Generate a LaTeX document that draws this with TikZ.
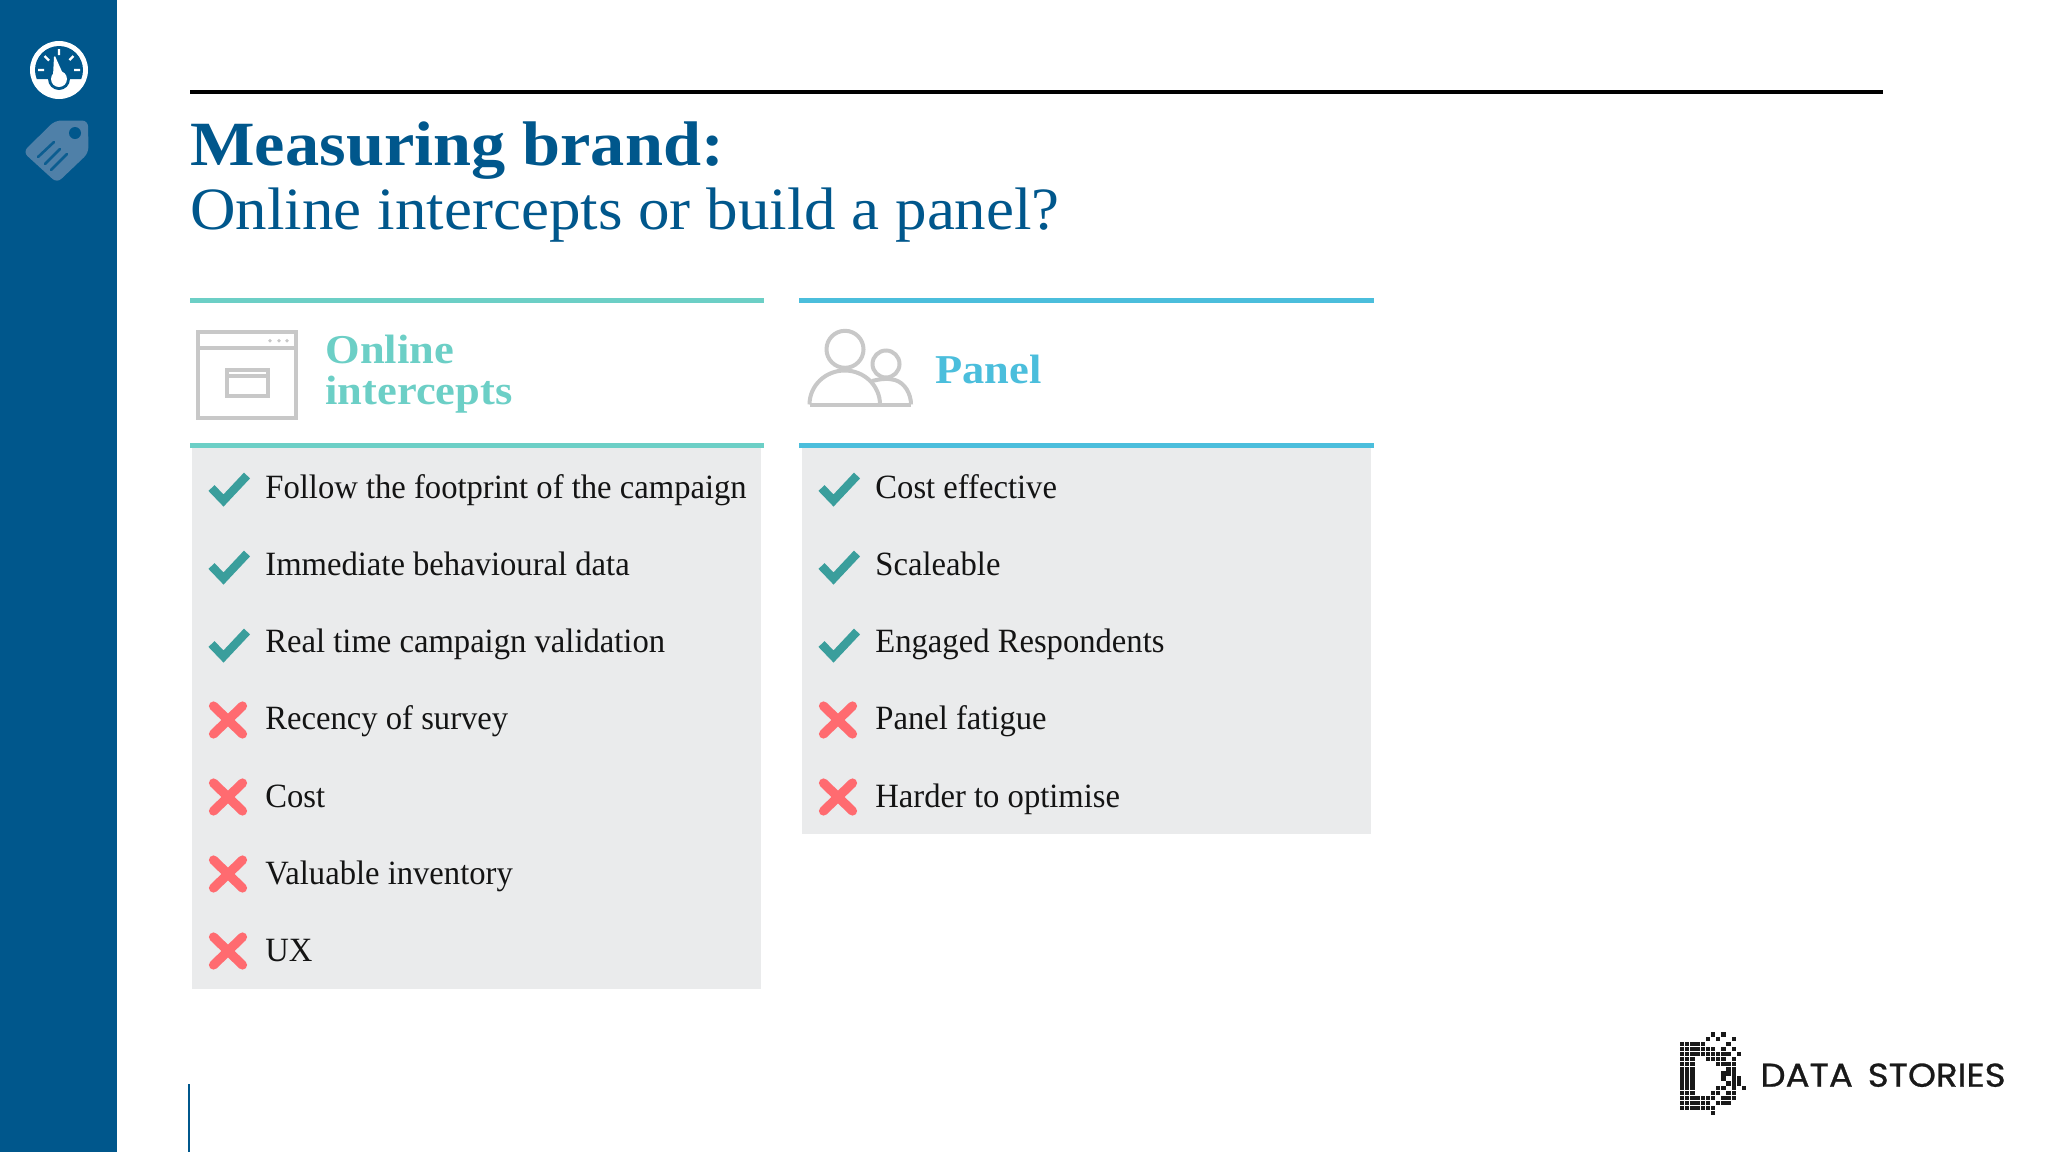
\documentclass[tikz,border=0pt]{standalone}
\usepackage{fontspec}
\setmainfont{Liberation Serif}
\newfontfamily\bodyfont[FakeStretch=0.96]{Liberation Serif}
\newfontfamily\titlefont[FakeStretch=1.05]{Liberation Serif}
\newfontfamily\wideserif[FakeStretch=1.085]{Liberation Serif}
\newfontfamily\logofont[FakeBold=0.8,FakeStretch=1.08]{Poppins}
\definecolor{navy}{HTML}{00578C}
\definecolor{teal1}{HTML}{6CCFC6}
\definecolor{sky1}{HTML}{4BBEDC}
\definecolor{panelbg}{HTML}{EAEBEC}
\definecolor{okgreen}{HTML}{3A9E9C}
\definecolor{badred}{HTML}{FF6B70}
\definecolor{icongrey}{HTML}{C8C8C8}
\definecolor{tagcol}{HTML}{4F80A8}
\tikzset{
  rowtext/.style={anchor=base west,inner sep=0pt,font=\bodyfont\fontsize{17}{18}\selectfont,text=black!92},
  headtext/.style={anchor=base west,inner sep=0pt,font=\wideserif\bfseries\fontsize{20.5}{20.5}\selectfont},
  rule/.style={line width=2.5pt},
  iconline/.style={draw=icongrey,line width=2pt},
  okmark/.style={draw=okgreen,line width=4.2pt,line join=miter},
  badmark/.style={draw=badred,line width=4.6pt,line cap=round},
}
\newcommand{\okat}[2]{\draw[okmark] (#1,#2) ++(-17.5,-1) -- ++(12,12.5) -- ++(23.5,-25);}
\newcommand{\badat}[2]{\draw[badmark] (#1-14.5,#2-14) -- (#1+14.5,#2+14) (#1+14.5,#2-14) -- (#1-14.5,#2+14);}
\begin{document}
\begin{tikzpicture}[x=0.5pt,y=-0.5pt]
\useasboundingbox (0,0) rectangle (2048,1152);
\fill[white] (0,0) rectangle (2048,1152);
% sidebar
\fill[navy] (0,0) rectangle (117,1152);
% gauge
\fill[white] (59,70) circle (29);
\fill[navy] (36.75,79) arc[start angle=158,end angle=382,radius=24] -- cycle;
\fill[navy] (59,79) circle (11);
\fill[white] (59,79) circle (8);
\fill[white] (54,57) -- (55,56) -- (64,76) -- (53,76) -- cycle;
\draw[white,line width=1.1pt] (38,70) -- (44,70) (74,70) -- (80,70) (59,49) -- (59,55) (44.5,56) -- (49,60.5) (73.5,56) -- (69.5,60);
% tag
\fill[tagcol,rounded corners=3pt] (55,120.5) -- (88,120.5) -- (88.5,153) -- (57,183) -- (23,152) -- cycle;
\fill[navy] (75,133) circle (6);
\draw[navy!85!tagcol,line width=1.3pt,line cap=round] (38,157) -- (54,142) (45,164) -- (60,149) (51,170) -- (67,154);
% top rule and title
\draw[black,line width=1.7pt] (190,92) -- (1883,92);
\node[anchor=base west,inner sep=0pt,text=navy,font=\wideserif\bfseries\fontsize{31.5}{32}\selectfont] (t1) at (190,165) {Measuring brand:};
\node[anchor=base west,inner sep=0pt,text=navy,font=\titlefont\fontsize{30}{32}\selectfont] (t2) at (190,229) {Online intercepts or build a panel?};
% panels
\fill[panelbg] (192,447) rectangle (761,989);
\fill[panelbg] (802,447) rectangle (1371,834);
\draw[rule,teal1] (190,300) -- (764,300) (190,445) -- (764,445);
\draw[rule,sky1] (799,300) -- (1374,300) (799,445) -- (1374,445);
% window icon
\draw[iconline] (198,331.5) rectangle (296,417.5) (198,348) -- (296,348);
\draw[iconline] (226.5,370) rectangle (268,395.5) (226.5,376) -- (268,376);
\fill[icongrey] (270,340.7) circle (1.8) (279,340.7) circle (1.8) (287,340.7) circle (1.8);
% people icon
\draw[iconline] (845,349.3) circle (18.5) (886,364) circle (13.5);
\draw[iconline,line join=round] (809.5,404.5) arc[start angle=180,end angle=360,x radius=35.25,y radius=34];
\draw[iconline] (809.5,404.5) -- (911,404.5);
\draw[iconline] (872,381) .. controls (880,379) and (888,378) .. (895,380) .. controls (905,383) and (911,394) .. (911,404.5);
% headings
\node[headtext,text=teal1] (h1a) at (325,363) {Online};
\node[headtext,text=teal1] (h1b) at (325,404) {intercepts};
\node[headtext,text=sky1] (h2) at (935,383) {Panel};
% left rows
\okat{229}{489}\okat{229}{567}\okat{229}{645}
\badat{228}{720}\badat{228}{797}\badat{228}{874}\badat{228}{951}
\node[rowtext] (l1) at (265,498) {Follow the footprint of the campaign};
\node[rowtext] (l2) at (265,575.3) {Immediate behavioural data};
\node[rowtext] (l3) at (265,652.6) {Real time campaign validation};
\node[rowtext] (l4) at (265,729.9) {Recency of survey};
\node[rowtext] (l5) at (265,807.2) {Cost};
\node[rowtext] (l6) at (265,884.5) {Valuable inventory};
\node[rowtext] (l7) at (265,961.8) {UX};
% right rows
\okat{839}{489}\okat{839}{567}\okat{839}{645}
\badat{838}{720}\badat{838}{797}
\node[rowtext] (r1) at (875,498) {Cost effective};
\node[rowtext] (r2) at (875,575.3) {Scaleable};
\node[rowtext] (r3) at (875,652.6) {Engaged Respondents};
\node[rowtext] (r4) at (875,729.9) {Panel fatigue};
\node[rowtext] (r5) at (875,807.2) {Harder to optimise};
% vertical tick
\draw[navy,line width=1.1pt] (189,1084) -- (189,1152);
% logo cells
\foreach \c/\r in {6/-2,8/-2,5/-1,7/-1,10/-1,
 0/0,1/0,2/0,3/0,4/0,9/0,
 0/1,1/1,2/1,3/1,4/1,5/1,6/1,8/1,10/1,
 0/2,1/2,2/2,3/2,4/2,5/2,6/2,7/2,8/2,9/2,11/2,
 0/3,1/3,2/3,5/3,6/3,7/3,8/3,10/3,
 0/4,1/4,2/4,7/4,8/4,9/4,10/4,
 0/5,1/5,2/5,9/5,10/5,
 0/6,1/6,2/6,8/6,9/6,10/6,
 0/7,1/7,2/7,8/7,10/7,11/7,
 0/8,1/8,2/8,9/8,10/8,11/8,
 0/9,1/9,2/9,7/9,8/9,10/9,12/9,
 0/10,1/10,2/10,6/10,7/10,9/10,10/10,
 0/11,1/11,2/11,3/11,4/11,5/11,6/11,8/11,9/11,10/11,
 0/12,1/12,2/12,3/12,4/12,5/12,7/12,8/12,9/12,
 0/13,1/13,2/13,3/13,4/13,5/13,6/13,
 6/14}
 {\fill[black!90] ({1680+5.15*\c},{1042+4.9*\r}) rectangle ++(4.3,4.3);}
\node[anchor=base west,inner sep=0pt,text=black!90,font=\logofont\fontsize{16.5}{16}\selectfont] (logo) at (1760,1086.7) {DATA\hspace{0.45em}STORIES};
\end{tikzpicture}
\end{document}
